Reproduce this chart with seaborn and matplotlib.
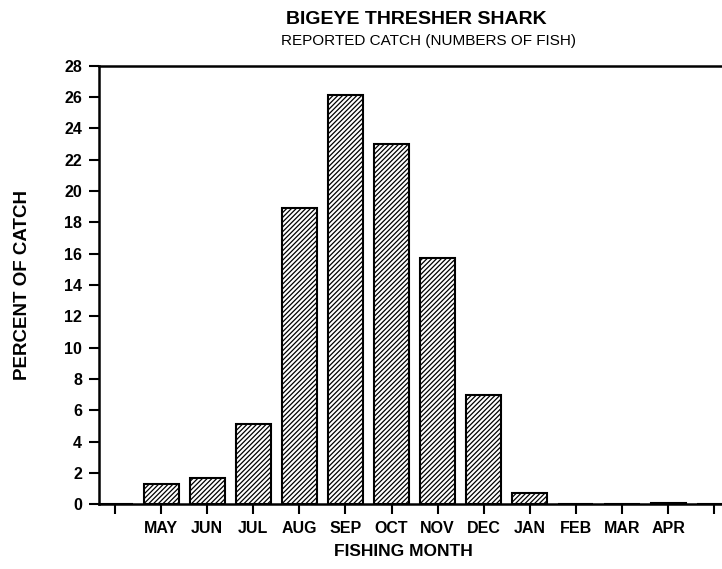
import matplotlib
matplotlib.use("Agg")
import matplotlib.pyplot as plt
import seaborn as sns
import pandas as pd

# Data
months = ["", "MAY", "JUN", "JUL", "AUG", "SEP", "OCT", "NOV", "DEC",
          "JAN", "FEB", "MAR", "APR", " "]
pct_catch = [0, 1.28, 1.66, 5.1, 18.9, 26.15, 23.0, 15.75, 7.0,
             0.7, 0.0, 0.0, 0.08, 0]

df = pd.DataFrame({"Month": months, "Percent": pct_catch})

sns.set_theme(style="white")
plt.rcParams["font.family"] = ["Liberation Sans", "DejaVu Sans"]
plt.rcParams["hatch.linewidth"] = 0.9
plt.rcParams["text.color"] = "black"
plt.rcParams["axes.labelcolor"] = "black"

fig = plt.figure(figsize=(7.22, 5.69), dpi=100)
ax = fig.add_axes([0.137, 0.1137, 0.863, 0.7709])

sns.barplot(data=df, x="Month", y="Percent", order=months, ax=ax,
            color="white", edgecolor="black", linewidth=1.5, width=0.76,
            hatch="///////", saturation=1)

ax.set_ylim(0, 28)
ax.set_xlim(-0.35, 13.17)
ax.set_yticks(range(0, 29, 2))
ax.set_xticks(range(len(months)))
ax.set_xticklabels(months)

for lab in ax.get_xticklabels() + ax.get_yticklabels():
    lab.set_fontweight("bold")
    lab.set_fontsize(11.5)

ax.tick_params(axis="both", direction="out", length=7, width=1.5,
               color="black", labelcolor="black", bottom=True, left=True)
ax.tick_params(axis="x", pad=5)
ax.tick_params(axis="y", pad=5)

for side in ["left", "bottom", "top"]:
    ax.spines[side].set_linewidth(1.8)
    ax.spines[side].set_color("black")
ax.spines["right"].set_visible(False)

ax.set_xlabel("FISHING MONTH", fontsize=12.5, fontweight="bold", labelpad=6)
ax.xaxis.label.set_x(0.488)
ax.set_ylabel("PERCENT OF CATCH", fontsize=13.5, fontweight="bold", labelpad=24)

fig.text(0.576, 0.965, "BIGEYE THRESHER SHARK", ha="center", va="center",
         fontsize=14, fontweight="bold")
fig.text(0.593, 0.928, "REPORTED CATCH (NUMBERS OF FISH)", ha="center",
         va="center", fontsize=11)

fig.savefig("out.png", dpi=100)
